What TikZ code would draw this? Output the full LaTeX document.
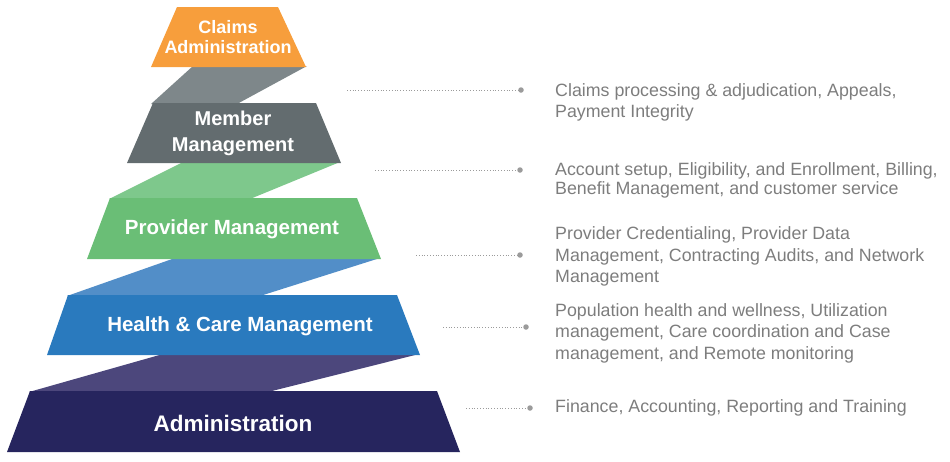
\documentclass[tikz,border=0pt]{standalone}
\usepackage{fontspec}
\setmainfont{Liberation Sans}
\usepackage{tikz}
\usetikzlibrary{positioning, calc}
\definecolor{claims}{RGB}{247, 158, 60}
\definecolor{claimslink}{RGB}{126, 135, 138}
\definecolor{member}{RGB}{99, 108, 111}
\definecolor{memberlink}{RGB}{126, 200, 140}
\definecolor{provider}{RGB}{106, 190, 118}
\definecolor{providerlink}{RGB}{82, 142, 200}
\definecolor{health}{RGB}{42, 122, 190}
\definecolor{healthlink}{RGB}{76, 71, 124}
\definecolor{admin}{RGB}{38, 37, 94}
\definecolor{note}{RGB}{125, 125, 125}
\definecolor{leadergray}{RGB}{155, 155, 155}
\tikzstyle{tier} = [text=white, align=center, inner sep=0pt, font=\bfseries\fontsize{20.5}{26}\selectfont]
\tikzstyle{desc} = [anchor=west, text=note, align=left, inner sep=0pt, font=\fontsize{17.8}{21.5}\selectfont]
\tikzstyle{leader} = [draw=leadergray, line width=1pt, dash pattern=on 0.9pt off 1.9pt]
\tikzstyle{enddot} = [circle, fill=leadergray, inner sep=0pt, minimum size=5.5pt]

\begin{document}
\begin{tikzpicture}[x=1pt, y=-1pt]
    \useasboundingbox (0, 0) rectangle (950, 461);

    % Links between tiers
    \fill[claimslink] (193, 66) -- (307, 66) -- (237, 104) -- (151, 104) -- cycle;
    \fill[memberlink] (183, 162) -- (340, 162) -- (250, 199) -- (109, 199) -- cycle;
    \fill[providerlink] (175, 258) -- (380, 258) -- (260, 296) -- (67, 296) -- cycle;
    \fill[healthlink] (163, 354) -- (419, 354) -- (268, 392) -- (29, 392) -- cycle;

    % Tiers
    \fill[claims] (177, 7) -- (278, 7) -- (306, 67) -- (151, 67) -- cycle;
    \fill[member] (153, 103) -- (316, 103) -- (341, 163) -- (127, 163) -- cycle;
    \fill[provider] (110, 198) -- (357, 198) -- (381, 259) -- (87, 259) -- cycle;
    \fill[health] (68, 295) -- (397, 295) -- (420, 355) -- (47, 355) -- cycle;
    \fill[admin] (30, 391) -- (437, 391) -- (460, 452) -- (7, 452) -- cycle;

    % Tier labels
    \node[tier, font=\bfseries\fontsize{18}{19.5}\selectfont] (claimslbl) at (228, 37) {Claims\\Administration};
    \node[tier, font=\bfseries\fontsize{20}{26}\selectfont] (memberlbl) at (233, 133) {Member\\Management};
    \node[tier] (providerlbl) at (232, 229) {Provider Management};
    \node[tier] (healthlbl) at (240, 326) {Health \& Care Management};
    \node[tier, font=\bfseries\fontsize{22.5}{26}\selectfont] (adminlbl) at (233, 423) {Administration};

    % Leaders
    \coordinate (claimsfrom) at (347, 90);
    \coordinate (memberfrom) at (375, 170);
    \coordinate (providerfrom) at (416, 255);
    \coordinate (healthfrom) at (443, 327);
    \coordinate (adminfrom) at (466, 408);
    \node[enddot] (claimsdot) at (521, 90) {};
    \node[enddot] (memberdot) at (520, 170) {};
    \node[enddot] (providerdot) at (520, 255) {};
    \node[enddot] (healthdot) at (526, 327) {};
    \node[enddot] (admindot) at (530, 408) {};
    \draw[leader] (claimsfrom) -- (claimsdot);
    \draw[leader] (memberfrom) -- (memberdot);
    \draw[leader] (providerfrom) -- (providerdot);
    \draw[leader] (healthfrom) -- (healthdot);
    \draw[leader] (adminfrom) -- (admindot);

    % Descriptions
    \node[desc] (claimsdesc) at (555, 102.5) {Claims processing \& adjudication, Appeals,\\Payment Integrity};
    \node[desc, font=\fontsize{17.8}{18.5}\selectfont] (memberdesc) at (555, 180.5) {Account setup, Eligibility, and Enrollment, Billing,\\Benefit Management, and customer service};
    \node[desc] (providerdesc) at (555, 256.5) {Provider Credentialing, Provider Data\\Management, Contracting Audits, and Network\\Management};
    \node[desc] (healthdesc) at (555, 333) {Population health and wellness, Utilization\\management, Care coordination and Case\\management, and Remote monitoring};
    \node[desc] (admindesc) at (555, 408) {Finance, Accounting, Reporting and Training};
\end{tikzpicture}
\end{document}
